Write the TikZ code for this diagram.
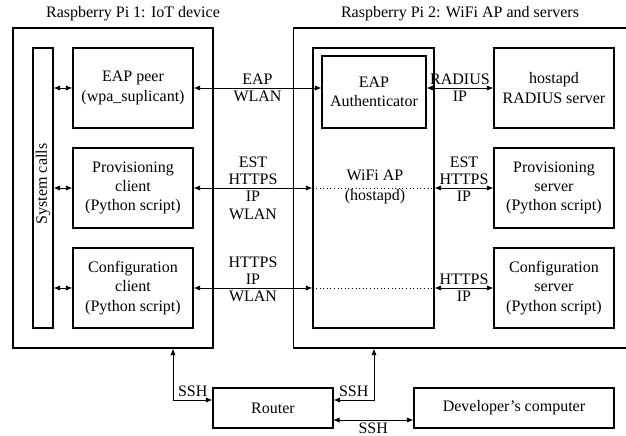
\documentclass[tikz,border=0pt]{standalone}
\usepackage{fontspec}
\setmainfont{Liberation Serif}
\usepackage{tikz}
\usetikzlibrary{arrows.meta, positioning}

\begin{document}
\begin{tikzpicture}[
x=0.75pt, y=-0.75pt,
every node/.style={font=\fontsize{12}{14.5}\selectfont, align=center},
box/.style={draw, line width=0.8pt, inner sep=0pt, minimum width=90pt, minimum height=60pt},
lbl/.style={font=\fontsize{12}{13}\selectfont, inner sep=2.2pt},
arrow/.style={{Latex[length=5pt,width=4pt]}-{Latex[length=5pt,width=4pt]}, line width=0.7pt},
link/.style={dotted, line width=0.7pt}
]
\useasboundingbox (0,0) rectangle (626,436);

% the two Raspberry Pis
\node[box, minimum width=150pt, minimum height=240pt] (pi1) at (113,188) {};
\node[box, minimum width=250.9pt, minimum height=240pt] (pi2) at (460.5,188) {};
\node (title1) at (133,14) {Raspberry Pi 1: IoT device};
\node (title2) at (460,14) {Raspberry Pi 2: WiFi AP and servers};

% IoT device
\node[box, minimum width=15pt, minimum height=210pt] (sys) at (43,188) {};
\node[rotate=90] (syslbl) at (43,184) {System calls};
\node[box] (peer) at (133,88) {EAP peer\\(wpa\_suplicant)};
\node[box] (provc) at (133,188) {Provisioning\\client\\(Python script)};
\node[box] (confc) at (133,288) {Configuration\\client\\(Python script)};

% access point and servers
\node[box, minimum width=90.75pt, minimum height=210pt] (ap) at (373.5,188) {};
\node[box, minimum width=78pt, minimum height=54pt] (auth) at (374,92) {EAP\\Authenticator};
\node (aplbl) at (375,187) {WiFi AP\\(hostapd)};
\node[box] (radius) at (554,88) {hostapd\\RADIUS server};
\node[box] (provs) at (554,188) {Provisioning\\server\\(Python script)};
\node[box] (confs) at (554,288) {Configuration\\server\\(Python script)};

% network
\node[box, minimum height=30pt] (router) at (273,408) {Router};
\node[box, minimum width=150pt, minimum height=30pt] (dev) at (514,408) {Developer's computer};
\coordinate (s1) at (173,400);
\coordinate (s2) at (374,400);
\coordinate (s3) at (333,420);

\draw[arrow] (sys.east |- peer) -- (peer.west);
\draw[arrow] (sys.east |- provc) -- (provc.west);
\draw[arrow] (sys.east |- confc) -- (confc.west);

\draw[arrow] (peer.east) -- node[lbl, above] {EAP} node[lbl, below] {WLAN} (auth.west |- peer.east);
\draw[arrow] (provc.east) -- node[lbl, above] {EST\\HTTPS} node[lbl, below] {IP\\WLAN} (ap.west |- provc.east);
\draw[arrow] (confc.east) -- node[lbl, above] {HTTPS\\IP} node[lbl, below] {WLAN} (ap.west |- confc.east);
\draw[link] (ap.west |- provc) -- (ap.east |- provc);
\draw[link] (ap.west |- confc) -- (ap.east |- confc);

\draw[arrow] (auth.east |- radius.west) -- node[lbl, above] {RADIUS} node[lbl, below] {IP} (radius.west);
\draw[arrow] (ap.east |- provs.west) -- node[lbl, above] {EST\\HTTPS} node[lbl, below] {IP} (provs.west);
\draw[arrow] (ap.east |- confs.west) -- node[lbl, above] {HTTPS} node[lbl, below] {IP} (confs.west);

\draw[arrow] (s1 |- pi1.south) -- (s1) -- node[lbl, above] {SSH} (s1 -| router.west);
\draw[arrow] (s2 |- pi2.south) -- (s2) -- node[lbl, above] {SSH} (s2 -| router.east);
\draw[arrow] (s3) -- node[lbl, below] {SSH} (s3 -| dev.west);

\end{tikzpicture}
\end{document}
